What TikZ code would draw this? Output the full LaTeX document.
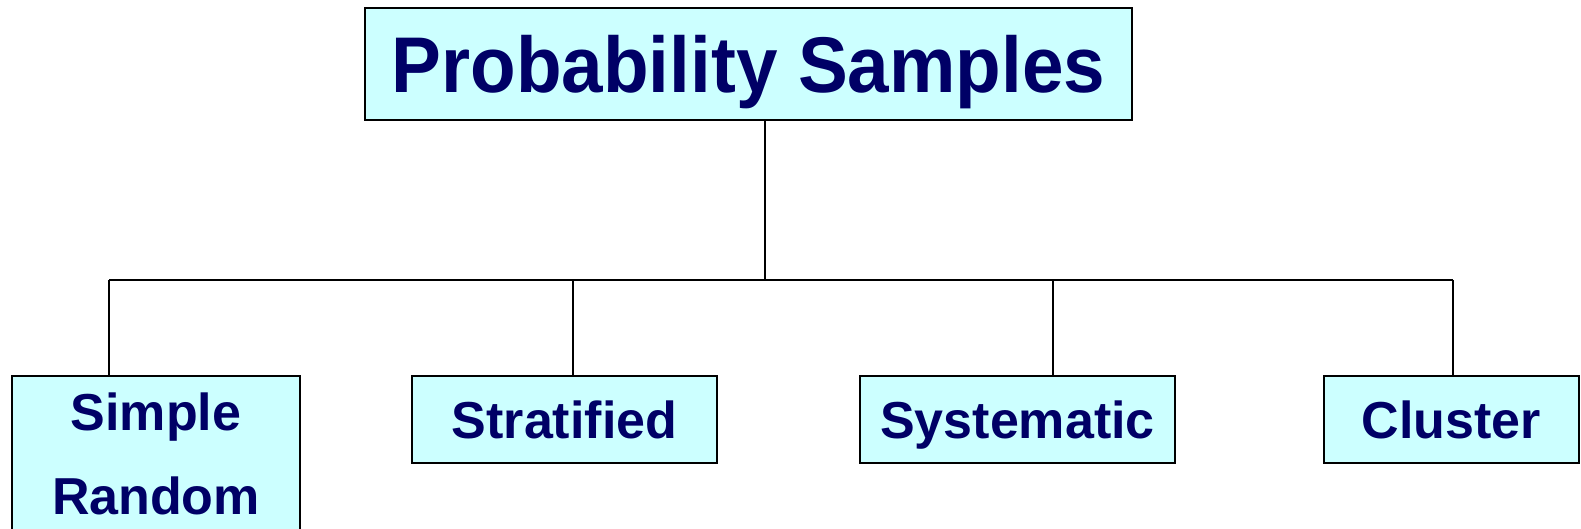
\documentclass[tikz,border=0pt]{standalone}
\usepackage{fontspec}
\setmainfont{Liberation Sans}
\usepackage{tikz}
\definecolor{navytext}{RGB}{0,0,102}
\definecolor{paleblue}{RGB}{204,255,255}

\begin{document}
\begin{tikzpicture}[x=0.5pt, y=-0.5pt,
    box/.style={draw, line width=1pt, fill=paleblue, text=navytext, inner sep=0pt,
                align=center, font=\fontsize{26}{42}\selectfont\bfseries},
    onebox/.style={box, text height=18.6pt, text depth=0pt, minimum height=43.5pt},
    conn/.style={line width=0.9pt}
  ]
    \useasboundingbox (0,0) rectangle (1581,529);
    \node[onebox, minimum width=383.5pt, minimum height=56pt, text height=28.3pt,
          font=\fontsize{39.5}{45}\selectfont\bfseries] (P) at (748.5,64)
          {\scalebox{0.945}[1]{Probability Samples}};
    \node[box, minimum width=144pt, minimum height=78pt] (SR) at (156,454) {Simple\\Random};
    \node[onebox, minimum width=152.5pt] (ST) at (564.5,419.5) {Stratified};
    \node[onebox, minimum width=157.5pt] (SY) at (1017.5,419.5) {Systematic};
    \node[onebox, minimum width=127.5pt] (CL) at (1451.5,419.5) {Cluster};
    % bus and branch points
    \coordinate (hub) at (765,280);
    \coordinate (j1) at (109,280);
    \coordinate (j2) at (573,280);
    \coordinate (j3) at (1053,280);
    \coordinate (j4) at (1453,280);
    \draw[conn] (P.south -| hub)--(hub);
    \draw[conn] (j1)--(j4);
    \draw[conn] (j1)--(j1 |- SR.north); \draw[conn] (j2)--(j2 |- ST.north);
    \draw[conn] (j3)--(j3 |- SY.north); \draw[conn] (j4)--(j4 |- CL.north);
  \end{tikzpicture}
\end{document}
